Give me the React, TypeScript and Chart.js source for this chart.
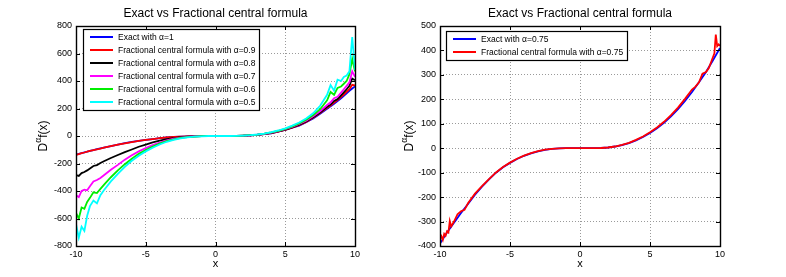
import React, { useEffect, useRef } from "react";
import { Chart, registerables } from "chart.js";
Chart.register(...registerables);

const FONT = "'Liberation Sans', Arial, Helvetica, sans-serif";

// ---------- Left panel data ----------
const xLeft = [-10, -9.8, -9.6, -9.4, -9.2, -9, -8.75, -8.5, -8.25, -8, -7.5, -7, -6.5, -6, -5.5, -5, -4.5, -4, -3.5, -3, -2.5, -2, -1.5, -1, -0.5, 0, 0.5, 1, 1.5, 2, 2.5, 3, 3.5, 4, 4.5, 5, 5.5, 6, 6.5, 7, 7.5, 8, 8.25, 8.5, 8.75, 9, 9.2, 9.4, 9.6, 9.8, 10];
const exactA1 = [-135, -130, -124, -119, -114, -108, -102, -96, -90, -84, -73, -62, -52, -43, -35, -28, -22, -16, -11, -7, -4, -2, -1, 0, 0, 0, 0, 0, 1, 2, 4, 8, 13, 20, 31, 44, 60, 76, 100, 128, 162, 198, 216, 235, 254, 274, 292, 310, 328, 345, 360];
const frac09 = [-137, -131, -125, -120, -114, -109, -103, -97, -91, -85, -74, -63, -53, -44, -36, -28, -22, -16, -11, -7, -4, -2, -1, 0, 0, 0, 0, 0, 1, 2, 4, 8, 13, 21, 32, 45, 61, 78, 103, 132, 167, 205, 222, 243, 262, 285, 302, 322, 340, 372, 368];
const frac08 = [-284, -290, -270, -262, -250, -236, -218, -212, -196, -184, -160, -138, -117, -98, -78, -62, -47, -34, -23, -15, -9, -5, -2, -1, 0, 0, 0, 0, 1, 2, 5, 9, 15, 22, 33, 47, 63, 82, 106, 136, 170, 212, 228, 255, 268, 296, 318, 340, 365, 418, 405];
const frac07 = [-430, -445, -400, -390, -395, -365, -330, -320, -305, -285, -245, -210, -172, -140, -112, -88, -66, -48, -32, -20, -12, -7, -3, -1, 0, 0, 0, 0, 1, 2, 5, 10, 16, 24, 35, 49, 66, 87, 112, 143, 180, 225, 245, 275, 285, 315, 340, 365, 390, 470, 430];
const frac06 = [-560, -600, -520, -530, -480, -450, -410, -415, -385, -355, -300, -250, -205, -165, -130, -103, -77, -55, -37, -24, -14, -8, -4, -1, 0, 0, 0, 0, 1, 3, 6, 10, 17, 26, 37, 52, 70, 92, 118, 152, 195, 260, 320, 300, 350, 360, 380, 400, 450, 560, 470];
const frac05 = [-640, -740, -660, -690, -580, -510, -470, -490, -430, -395, -330, -275, -225, -180, -143, -112, -85, -62, -42, -28, -17, -10, -5, -2, 0, 0, 0, 0, 1, 3, 6, 11, 18, 28, 40, 56, 75, 98, 127, 165, 220, 300, 370, 330, 410, 400, 430, 440, 470, 720, 480];

// ---------- Right panel data ----------
const xRight = [-10, -9.5, -9, -8.5, -8, -7.5, -7, -6.5, -6, -5.5, -5, -4.5, -4, -3.5, -3, -2.5, -2, -1.5, -1, -0.5, 0, 0.5, 1, 1.5, 2, 2.5, 3, 3.5, 4, 4.5, 5, 5.5, 6, 6.5, 7, 7.5, 8, 8.5, 9, 9.5, 10];
const exactA075 = [-390, -345, -305, -265, -228, -190, -157, -127, -100, -78, -60, -44, -31, -21, -13, -7, -3, -1, 0, 0, 0, 0, 0, 1, 3, 7, 13, 21, 32, 46, 62, 82, 104, 130, 160, 193, 230, 270, 312, 360, 410];
const xRightFrac = [-10, -9.9, -9.8, -9.7, -9.6, -9.5, -9.4, -9.3, -9.2, -9, -8.75, -8.5, -8.25, -8, -7.5, -7, -6.5, -6, -5.5, -5, -4.5, -4, -3.5, -3, -2.5, -2, -1.5, -1, -0.5, 0, 0.5, 1, 1.5, 2, 2.5, 3, 3.5, 4, 4.5, 5, 5.5, 6, 6.5, 7, 7.5, 8, 8.25, 8.5, 8.75, 9, 9.2, 9.4, 9.6, 9.7, 9.8, 9.9, 10];
const frac075 = [-372, -360, -375, -350, -358, -340, -345, -298, -320, -300, -270, -258, -252, -225, -186, -155, -126, -99, -77, -59, -43, -30, -20, -12, -6, -3, -1, 0, 0, 0, 0, 0, 1, 3, 7, 14, 22, 34, 48, 65, 85, 108, 135, 166, 202, 240, 252, 270, 305, 312, 328, 358, 388, 465, 418, 425, 418];

// ---------- Ticks / labels ----------
const xTicks = [-10, -5, 0, 5, 10];
const yTicksLeft = [-800, -600, -400, -200, 0, 200, 400, 600, 800];
const yTicksRight = [-400, -300, -200, -100, 0, 100, 200, 300, 400, 500];
const chartTitle = "Exact vs Fractional central formula";
const leftLabels = [
  "Exact with \u03b1=1",
  "Fractional central formula with \u03b1=0.9",
  "Fractional central formula with \u03b1=0.8",
  "Fractional central formula with \u03b1=0.7",
  "Fractional central formula with \u03b1=0.6",
  "Fractional central formula with \u03b1=0.5",
];
const rightLabels = ["Exact with \u03b1=0.75", "Fractional central formula with \u03b1=0.75"];

type Series = { label: string; color: string; xs: number[]; ys: number[] };

const leftSeries: Series[] = [
  { label: leftLabels[0], color: "#0000ff", xs: xLeft, ys: exactA1 },
  { label: leftLabels[1], color: "#ff0000", xs: xLeft, ys: frac09 },
  { label: leftLabels[2], color: "#000000", xs: xLeft, ys: frac08 },
  { label: leftLabels[3], color: "#ff00ff", xs: xLeft, ys: frac07 },
  { label: leftLabels[4], color: "#00ee00", xs: xLeft, ys: frac06 },
  { label: leftLabels[5], color: "#00ffff", xs: xLeft, ys: frac05 },
];
const rightSeries: Series[] = [
  { label: rightLabels[0], color: "#0000ff", xs: xRight, ys: exactA075 },
  { label: rightLabels[1], color: "#ff0000", xs: xRightFrac, ys: frac075 },
];

function buildDatasets(series: Series[]) {
  return series.map((s, i) => ({
    label: s.label,
    data: s.xs.map((x, j) => ({ x, y: s.ys[j] })),
    borderColor: s.color,
    backgroundColor: s.color,
    borderWidth: 1.8,
    pointRadius: 0,
    tension: 0,
    fill: false,
    order: series.length - i,
  }));
}

const matlabPlugin = {
  id: "matlab",
  afterDraw(chart: any, _args: any, opts: any) {
    const { ctx, chartArea: a, scales } = chart;
    const xs = scales.x;
    const ys = scales.y;
    ctx.save();
    // axes box
    ctx.strokeStyle = "#000";
    ctx.lineWidth = 1.4;
    ctx.strokeRect(Math.round(a.left) + 0.5, Math.round(a.top) + 0.5, Math.round(a.right - a.left), Math.round(a.bottom - a.top));
    // inward ticks
    ctx.lineWidth = 1;
    ctx.beginPath();
    for (const v of opts.xTicks) {
      const p = Math.round(xs.getPixelForValue(v)) + 0.5;
      ctx.moveTo(p, a.bottom);
      ctx.lineTo(p, a.bottom - 4);
      ctx.moveTo(p, a.top);
      ctx.lineTo(p, a.top + 4);
    }
    for (const v of opts.yTicks) {
      const p = Math.round(ys.getPixelForValue(v)) + 0.5;
      ctx.moveTo(a.left, p);
      ctx.lineTo(a.left + 4, p);
      ctx.moveTo(a.right, p);
      ctx.lineTo(a.right - 4, p);
    }
    ctx.stroke();

    // legend
    const ds = chart.data.datasets;
    ctx.font = `8.5px ${FONT}`;
    let maxW = 0;
    for (const d of ds) maxW = Math.max(maxW, ctx.measureText(d.label).width);
    const lx = a.left + opts.legendDX;
    const ly = a.top + opts.legendDY;
    const rowH = 13;
    const boxW = 35 + maxW + 4;
    const boxH = 16 + (ds.length - 1) * rowH;
    ctx.fillStyle = "#fff";
    ctx.fillRect(lx, ly, boxW, boxH);
    ctx.strokeStyle = "#000";
    ctx.lineWidth = 1.2;
    ctx.strokeRect(Math.round(lx) + 0.5, Math.round(ly) + 0.5, Math.round(boxW), Math.round(boxH));
    ctx.textAlign = "left";
    ctx.textBaseline = "middle";
    ds.forEach((d: any, i: number) => {
      const cy = ly + 8 + i * rowH;
      ctx.strokeStyle = d.borderColor;
      ctx.lineWidth = 2;
      ctx.beginPath();
      ctx.moveTo(lx + 7, cy);
      ctx.lineTo(lx + 30, cy);
      ctx.stroke();
      ctx.fillStyle = "#000";
      ctx.fillText(d.label, lx + 35, cy + 0.5);
    });

    // title
    const cx = (a.left + a.right) / 2;
    ctx.fillStyle = "#000";
    ctx.textAlign = "center";
    ctx.textBaseline = "middle";
    ctx.font = `12px ${FONT}`;
    ctx.fillText(opts.title, cx, 14);
    // x title
    ctx.font = `11px ${FONT}`;
    ctx.fillText("x", cx, 264);
    // y title: D^alpha f(x)
    const cy = (a.top + a.bottom) / 2;
    ctx.translate(opts.yTitleX, cy);
    ctx.rotate(-Math.PI / 2);
    const big = `12px ${FONT}`;
    const small = `8.5px ${FONT}`;
    ctx.font = big;
    const wD = ctx.measureText("D").width;
    const wF = ctx.measureText("f(x)").width;
    ctx.font = small;
    const wA = ctx.measureText("\u03b1").width;
    const total = wD + wA + wF;
    let x0 = -total / 2;
    ctx.textAlign = "left";
    ctx.font = big;
    ctx.fillText("D", x0, 0);
    x0 += wD;
    ctx.font = small;
    ctx.fillText("\u03b1", x0, -5);
    x0 += wA;
    ctx.font = big;
    ctx.fillText("f(x)", x0, 0);
    ctx.restore();
  },
};

type PanelCfg = {
  series: Series[];
  yTicks: number[];
  yWidth: number;
  padRight: number;
  yTitleX: number;
  legendDX: number;
  legendDY: number;
};

function Panel({ cfg, left }: { cfg: PanelCfg; left: number }) {
  const ref = useRef<HTMLCanvasElement | null>(null);
  useEffect(() => {
    if (!ref.current) return;
    const yMin = cfg.yTicks[0];
    const yMax = cfg.yTicks[cfg.yTicks.length - 1];
    const tickFont = { family: FONT, size: 9 };
    const chart = new Chart(ref.current, {
      type: "line",
      data: { datasets: buildDatasets(cfg.series) as any },
      plugins: [matlabPlugin as any],
      options: {
        animation: false,
        responsive: false,
        maintainAspectRatio: false,
        parsing: false as any,
        layout: { padding: { left: 0, right: cfg.padRight, top: 26, bottom: 0 } },
        plugins: {
          legend: { display: false },
          title: { display: false },
          tooltip: { enabled: false },
          matlab: {
            title: chartTitle,
            xTicks,
            yTicks: cfg.yTicks,
            yTitleX: cfg.yTitleX,
            legendDX: cfg.legendDX,
            legendDY: cfg.legendDY,
          },
        } as any,
        scales: {
          x: {
            type: "linear",
            min: -10,
            max: 10,
            afterBuildTicks: (s: any) => {
              s.ticks = xTicks.map((v) => ({ value: v }));
            },
            afterFit: (s: any) => {
              s.height = 31;
            },
            ticks: { font: tickFont, color: "#000", padding: 3, maxRotation: 0, autoSkip: false, callback: (v: any) => String(v) },
            grid: { color: "#9a9a9a", lineWidth: 1, drawTicks: false },
            border: { display: false, dash: [1, 2] },
          },
          y: {
            type: "linear",
            min: yMin,
            max: yMax,
            afterBuildTicks: (s: any) => {
              s.ticks = cfg.yTicks.map((v) => ({ value: v }));
            },
            afterFit: (s: any) => {
              s.width = cfg.yWidth;
            },
            ticks: { font: tickFont, color: "#000", padding: 4, autoSkip: false, callback: (v: any) => String(v) },
            grid: { color: "#9a9a9a", lineWidth: 1, drawTicks: false },
            border: { display: false, dash: [1, 2] },
          },
        },
      } as any,
    });
    return () => chart.destroy();
  }, [cfg]);
  return (
    <canvas
      ref={ref}
      width={393}
      height={277}
      style={{ position: "absolute", left, top: 0, width: 393, height: 277 }}
    />
  );
}

const leftCfg: PanelCfg = {
  series: leftSeries,
  yTicks: yTicksLeft,
  yWidth: 76,
  padRight: 38,
  yTitleX: 44,
  legendDX: 7,
  legendDY: 3,
};
const rightCfg: PanelCfg = {
  series: rightSeries,
  yTicks: yTicksRight,
  yWidth: 47,
  padRight: 66,
  yTitleX: 17,
  legendDX: 6,
  legendDY: 5,
};

export default function App() {
  return (
    <div style={{ position: "fixed", left: 0, top: 0, width: 786, height: 277, background: "#fff" }}>
      <Panel cfg={leftCfg} left={0} />
      <Panel cfg={rightCfg} left={393} />
    </div>
  );
}
